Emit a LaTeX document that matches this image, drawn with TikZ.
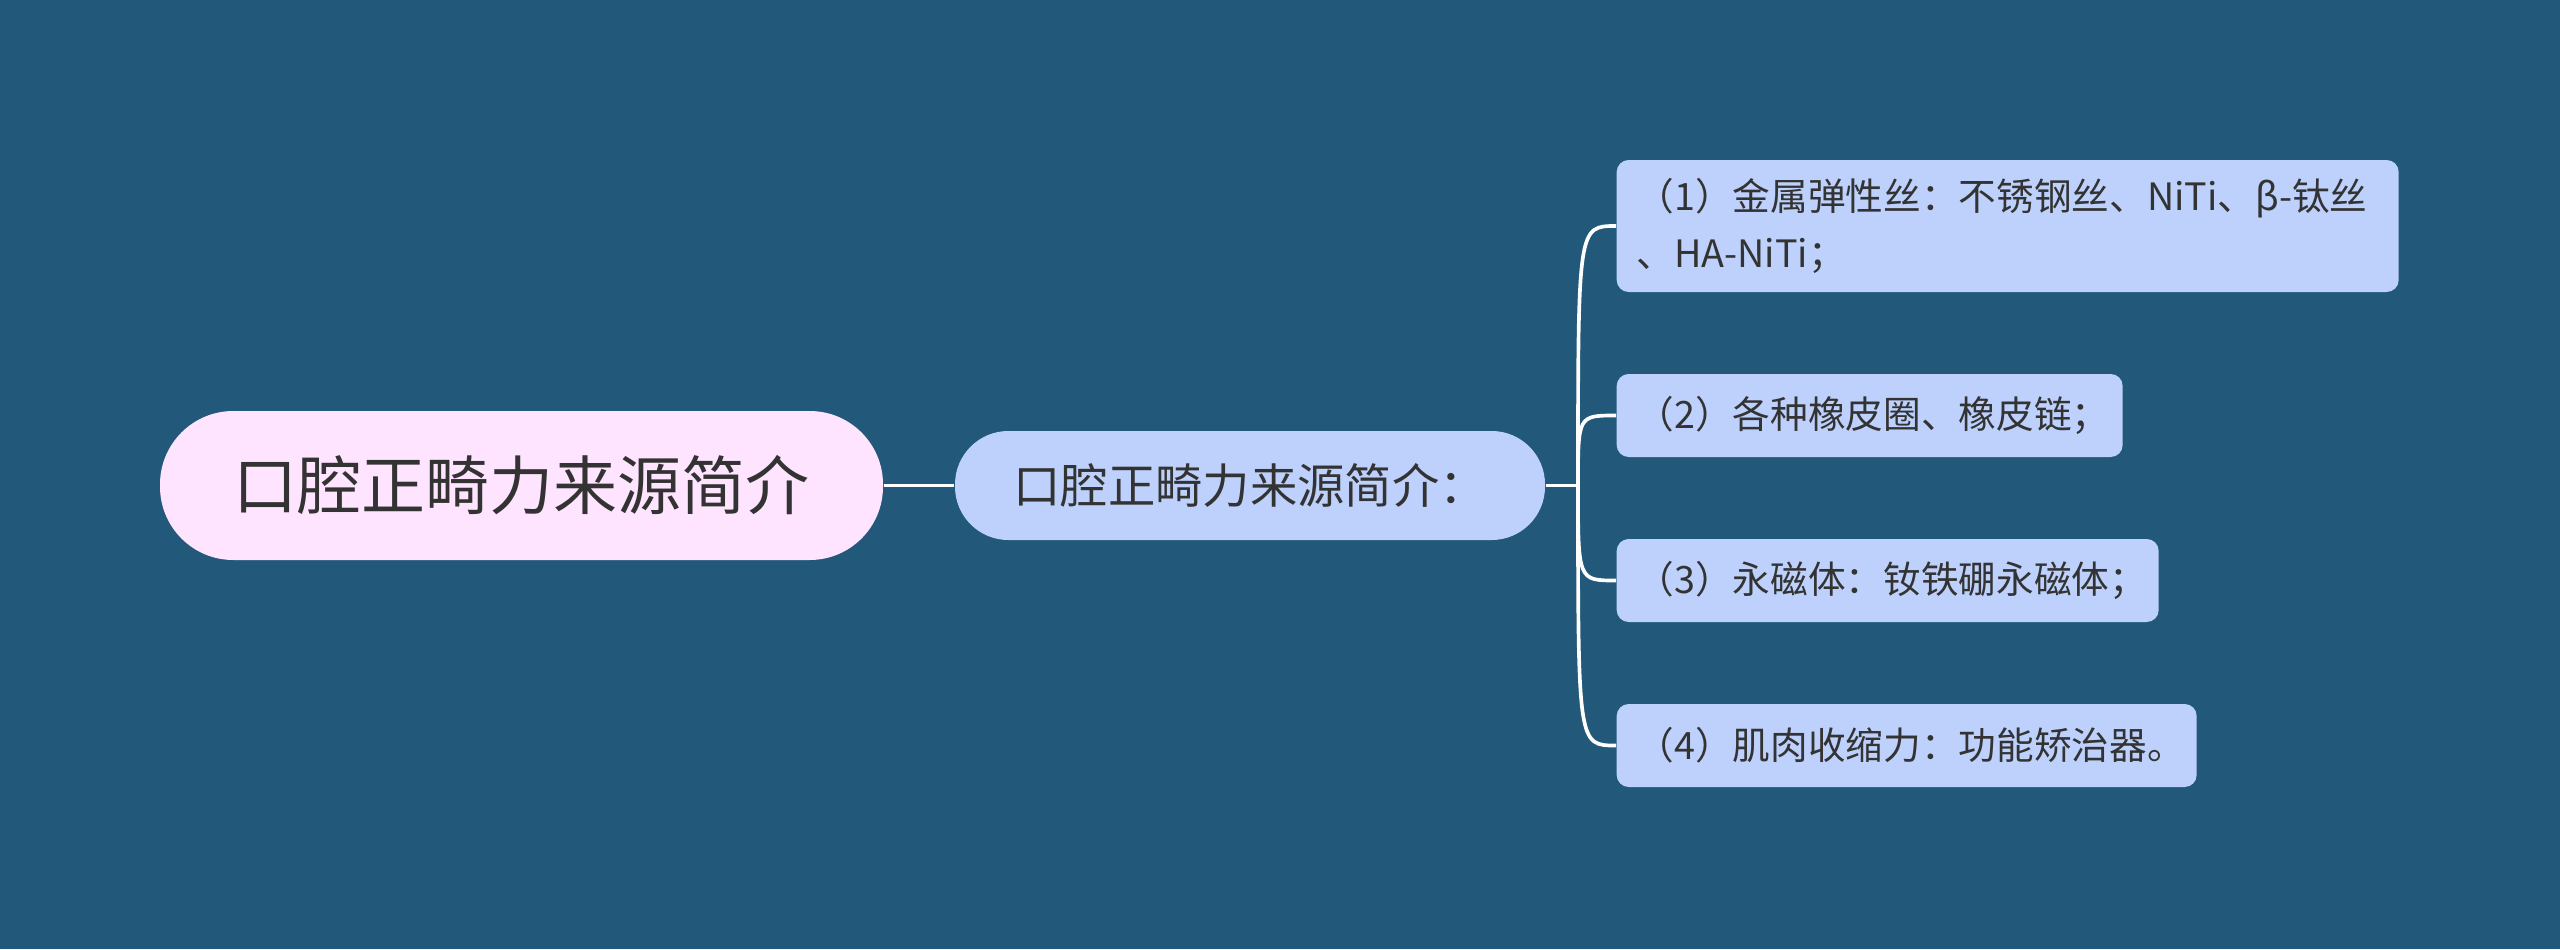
\documentclass[tikz,border=0pt]{standalone}
\usepackage{fontspec}
\usepackage{tikz}
\usetikzlibrary{positioning}
\setmainfont{Noto Sans CJK SC}
\definecolor{Deep}{HTML}{22587A}
\definecolor{Blush}{HTML}{FFE4FF}
\definecolor{Sky}{HTML}{BDD1FC}
\definecolor{Ink}{HTML}{333333}

\begin{document}
\begin{tikzpicture}[x=1pt,y=1pt, every node/.style={text=Ink,inner sep=0pt},
rootbox/.style={fill=Blush,rounded corners=22pt,minimum width=216.9pt,minimum height=44.7pt,font=\fontsize{19.2}{23}\selectfont},
midbox/.style={fill=Sky,rounded corners=16pt,minimum width=177pt,minimum height=32.7pt,font=\fontsize{14.2}{17}\selectfont},
leafbox/.style={fill=Sky,rounded corners=3.6pt,anchor=west,inner xsep=6pt,minimum height=24.9pt,align=left,font=\fontsize{11.3}{17}\selectfont},
link/.style={draw=white,line width=1.1pt}]
\fill[Deep] (0,0) rectangle (768,284.7);
\useasboundingbox (0,0) rectangle (768,284.7);
\node[rootbox] (root) at (156.45,139.05) {口腔正畸力来源简介};
\node[midbox] (mid) at (375,139.05) {口腔正畸力来源简介：\hspace{6pt}};
\node[leafbox,minimum height=39.6pt,text width=222.6pt] (l1) at (484.8,216.9) {（1）金属弹性丝：不锈钢丝、NiTi、β-钛丝\\、HA-NiTi；};
\node[leafbox,text width=139.8pt] (l2) at (484.8,160.05) {（2）各种橡皮圈、橡皮链；};
\node[leafbox,text width=150.6pt] (l3) at (484.8,110.55) {（3）永磁体：钕铁硼永磁体；};
\node[leafbox,text width=162pt] (l4) at (484.8,61.05) {（4）肌肉收缩力：功能矫治器。};
\coordinate (fork) at (473.4,139.05);
\draw[link] (root)--(mid);\draw[link] (mid)--(fork);
\foreach \leaf in {l1,l2,l3,l4}
  \draw[link] (fork) .. controls (fork |- \leaf.west) .. (\leaf.west);
\end{tikzpicture}
\end{document}
